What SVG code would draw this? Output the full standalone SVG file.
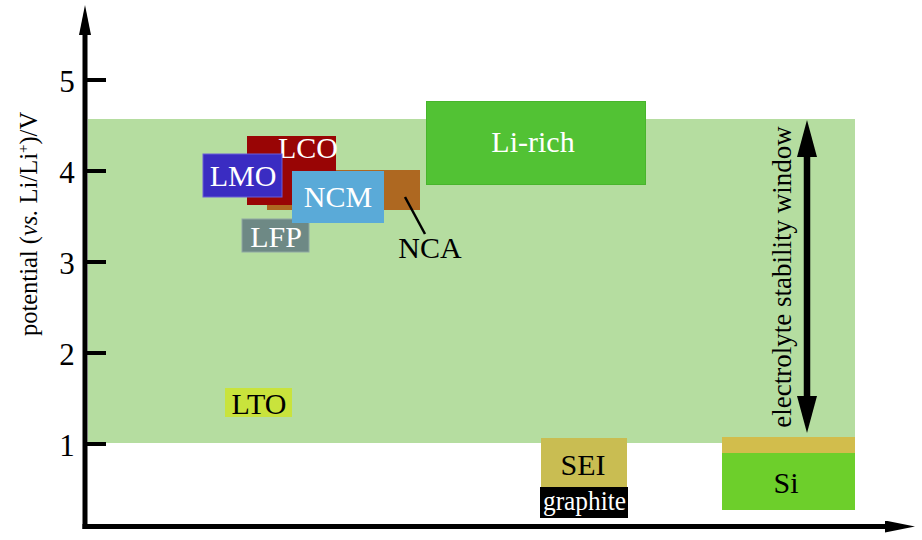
<svg xmlns="http://www.w3.org/2000/svg" width="922" height="540" viewBox="0 0 922 540">
<style>
text{font-family:"Liberation Serif","Times New Roman",serif;}
.lbl{font-size:30px;text-anchor:middle;}
.w{fill:#ffffff;}
.k{fill:#000000;}
.num{font-size:31px;text-anchor:middle;fill:#000;}
.tick{stroke:#000;stroke-width:4;}
.axis{stroke:#000;stroke-width:5;fill:none;}
</style>
<defs>
<marker id="axHead" markerUnits="userSpaceOnUse" markerWidth="30" markerHeight="12" viewBox="0 0 30 12" refX="0" refY="6" orient="auto">
<path d="M0,0 L30,6 L0,12 z" fill="#000"/>
</marker>
<marker id="winHead" markerUnits="userSpaceOnUse" markerWidth="37" markerHeight="20" viewBox="0 0 37 20" refX="0" refY="10" orient="auto-start-reverse">
<path d="M0,0 L37,10 L0,20 z" fill="#000"/>
</marker>
</defs>
<rect width="922" height="540" fill="#ffffff"/>

<g id="window">
<rect x="88" y="119" width="767" height="324" fill="#b5dda0"/>
</g>

<g id="axes">
<line class="axis" x1="85" y1="529" x2="85" y2="35" marker-end="url(#axHead)"/>
<line class="axis" x1="82.5" y1="526.5" x2="885" y2="526.5" marker-end="url(#axHead)"/>
<line class="tick" x1="85" y1="80" x2="106" y2="80"/>
<line class="tick" x1="85" y1="171" x2="106" y2="171"/>
<line class="tick" x1="85" y1="262" x2="106" y2="262"/>
<line class="tick" x1="85" y1="353" x2="106" y2="353"/>
<line class="tick" x1="85" y1="444" x2="106" y2="444"/>
<text class="num" x="67" y="92">5</text>
<text class="num" x="67" y="183">4</text>
<text class="num" x="67" y="274">3</text>
<text class="num" x="67" y="365">2</text>
<text class="num" x="67" y="456">1</text>
<text transform="translate(37,224) rotate(-90)" font-size="24.5" text-anchor="middle">potential (<tspan font-style="italic">vs.</tspan> Li/Li<tspan font-size="15" dy="-9">+</tspan><tspan dy="9">)/V</tspan></text>
</g>

<g id="LiRich">
<rect x="426.5" y="101.5" width="219" height="83" fill="#52c234" stroke="#48b52c" stroke-width="1"/>
<text class="lbl w" x="533" y="152">Li-rich</text>
</g>

<g id="NCA">
<rect x="267" y="170" width="153" height="40" fill="#ae6821"/>
<text class="lbl k" x="430" y="258">NCA</text>
</g>

<g id="LCO">
<rect x="247" y="136" width="89" height="69" fill="#990505"/>
<text class="lbl w" x="308" y="158">LCO</text>
</g>

<g id="LMO">
<rect x="203" y="154" width="79" height="43" fill="#3a2cc2" stroke="#6b5fd8" stroke-width="1"/>
<text class="lbl w" x="243" y="186">LMO</text>
</g>

<g id="LFP">
<rect x="242" y="219" width="67" height="33" fill="#6e8985" stroke="#8fa8a3" stroke-width="1"/>
<text class="lbl w" x="276" y="247">LFP</text>
</g>

<g id="NCM">
<rect x="292" y="171" width="92" height="52" fill="#5aaad8"/>
<text class="lbl w" x="338" y="207">NCM</text>
</g>

<g id="LTO">
<rect x="225" y="388" width="67" height="29" fill="#c9e33c"/>
<text class="lbl k" x="259" y="414">LTO</text>
</g>

<g id="SEI">
<rect x="541" y="438" width="86" height="50" fill="#c9bd52"/>
<text class="lbl k" x="583" y="475" font-size="29">SEI</text>
</g>

<g id="graphite">
<rect x="540" y="487" width="88" height="31" fill="#000000"/>
<text class="w" x="584.5" y="510" font-size="27" text-anchor="middle" textLength="83" lengthAdjust="spacingAndGlyphs">graphite</text>
</g>

<g id="Si">
<rect x="722" y="437" width="133" height="17" fill="#d2bd4c"/>
<rect x="722" y="453" width="133" height="57" fill="#6dcf2b"/>
<text class="lbl k" x="786" y="493">Si</text>
</g>

<g id="connectors">
<line x1="405" y1="197" x2="425" y2="234" stroke="#000" stroke-width="2.5"/>
<line x1="807" y1="157" x2="807" y2="396" stroke="#000" stroke-width="6.5" marker-start="url(#winHead)" marker-end="url(#winHead)"/>
</g>

<g id="windowLabel">
<text transform="translate(791,277) rotate(-90)" font-size="27" text-anchor="middle">electrolyte stability window</text>
</g>
</svg>
